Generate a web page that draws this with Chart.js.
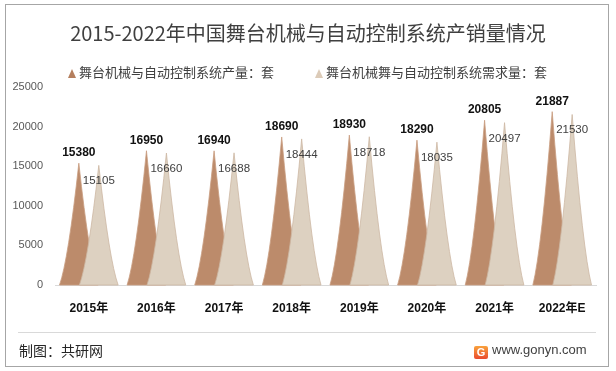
<!DOCTYPE html>
<html>
<head>
<meta charset="utf-8">
<script src="https://cdn.jsdelivr.net/npm/chart.js@4/dist/chart.umd.min.js"></script>
<style>
  body { margin: 0; background: #fff; font-family: "Noto Sans CJK SC", "Noto Sans", sans-serif; }
  #wrap { position: relative; width: 616px; height: 371px; overflow: hidden; }
  #frame { position: absolute; left: 5px; top: 4px; width: 604px; height: 363px; border: 1px solid #a6a6a6; box-sizing: border-box; }
  #chart { position: absolute; left: 0; top: 0; }
  .title { position: absolute; left: 0; width: 616px; top: 20px; text-align: center; font-size: 20px; line-height: 26px; color: #404040; }
  .legend-item { position: absolute; top: 63px; font-size: 13px; line-height: 18px; color: #404040; white-space: nowrap; }
  .tri { display: inline-block; width: 0; height: 0; border-left: 4px solid transparent; border-right: 4px solid transparent; border-bottom: 9px solid; margin-right: 3px; vertical-align: -1px; }
  .rule { position: absolute; left: 18px; top: 332px; width: 578px; height: 1px; background: #d9d9d9; }
  .source { position: absolute; left: 19px; top: 340px; font-size: 14px; line-height: 20px; color: #262626; }
  .site { position: absolute; left: 474px; top: 341px; font-family: "Liberation Sans", Arial, sans-serif; font-size: 13px; line-height: 18px; color: #404040; }
  .logo { display: inline-block; width: 14px; height: 13px; margin-right: 4px; vertical-align: -2px; background: linear-gradient(#f9a23c, #ea4a2d); color: #fff; font: bold 11px/13px "Liberation Sans", Arial, sans-serif; text-align: center; border-radius: 2px; }
</style>
</head>
<body>
<div id="wrap">
  <div id="frame"></div>
  <canvas id="chart" width="616" height="371"></canvas>
  <div class="title">2015-2022年中国舞台机械与自动控制系统产销量情况</div>
  <div class="legend-item" style="left:68px"><span class="tri" style="border-bottom-color:#b57f5e"></span>舞台机械与自动控制系统产量：套</div>
  <div class="legend-item" style="left:315px"><span class="tri" style="border-bottom-color:#dccbb8"></span>舞台机械舞与自动控制系统需求量：套</div>
  <div class="rule"></div>
  <div class="source">制图：共研网</div>
  <div class="site"><span class="logo">G</span>www.gonyn.com</div>
</div>
<script>
const years = ['2015年', '2016年', '2017年', '2018年', '2019年', '2020年', '2021年', '2022年E']
const production = [15380, 16950, 16940, 18690, 18930, 18290, 20805, 21887]
const demand = [15105, 16660, 16688, 18444, 18718, 18035, 20497, 21530]
const yTicks = [0, 5000, 10000, 15000, 20000, 25000]

const spikeColors = ['#bc8b6b', '#ddd1c1']
const spikeEdges = ['#c99d80', '#cdb8a3']

// draws each bar as a pointed spike, using the bar element's position from the scales
const spikePlugin = {
  id: 'spikes',
  afterDatasetsDraw(chart) {
    const ctx = chart.ctx
    chart.data.datasets.forEach((ds, i) => {
      const meta = chart.getDatasetMeta(i)
      meta.data.forEach((bar) => {
        const { x, y, base, width } = bar.getProps(['x', 'y', 'base', 'width'], true)
        const w = width * 0.97
        const h = base - y
        ctx.save()
        ctx.beginPath()
        ctx.moveTo(x - w, base)
        ctx.quadraticCurveTo(x - w * 0.55, base - h * 0.2, x, y)
        ctx.quadraticCurveTo(x + w * 0.55, base - h * 0.2, x + w, base)
        ctx.closePath()
        ctx.fillStyle = spikeColors[i]
        ctx.fill()
        ctx.lineWidth = 0.8
        ctx.strokeStyle = spikeEdges[i]
        ctx.stroke()
        ctx.restore()
      })
    })
    // value labels
    chart.data.datasets.forEach((ds, i) => {
      const meta = chart.getDatasetMeta(i)
      meta.data.forEach((bar, j) => {
        ctx.save()
        ctx.textAlign = 'center'
        ctx.textBaseline = 'alphabetic'
        if (i === 0) {
          ctx.font = 'bold 12px "Liberation Sans", Arial, sans-serif'
          ctx.fillStyle = '#111'
          ctx.fillText(ds.data[j], bar.x, bar.y - 7)
        } else {
          ctx.font = '11.5px "Liberation Sans", Arial, sans-serif'
          ctx.fillStyle = '#404040'
          ctx.fillText(ds.data[j], bar.x, bar.y + 19)
        }
        ctx.restore()
      })
    })
  }
}

new Chart(document.getElementById('chart'), {
  type: 'bar',
  data: {
    labels: years,
    datasets: [
      {
        label: '舞台机械与自动控制系统产量：套',
        data: production,
        backgroundColor: 'rgba(0,0,0,0)',
        borderWidth: 0
      },
      {
        label: '舞台机械舞与自动控制系统需求量：套',
        data: demand,
        backgroundColor: 'rgba(0,0,0,0)',
        borderWidth: 0
      }
    ]
  },
  plugins: [spikePlugin],
  options: {
    responsive: false,
    animation: false,
    categoryPercentage: 0.59,
    barPercentage: 1,
    layout: { padding: { left: 5, right: 20, top: 87, bottom: 50 } },
    plugins: {
      legend: { display: false },
      title: { display: false },
      tooltip: { enabled: false }
    },
    scales: {
      x: {
        grid: { display: false, drawTicks: false },
        border: { display: true, color: '#d9d9d9', width: 1 },
        ticks: {
          padding: 16,
          color: '#111',
          font: { family: '"Liberation Sans", "Noto Sans CJK SC", sans-serif', size: 12, weight: 'bold' }
        },
        afterFit(scale) { scale.height = 36 }
      },
      y: {
        min: yTicks[0],
        max: yTicks[yTicks.length - 1],
        grid: { display: false, drawTicks: false },
        border: { display: false },
        afterBuildTicks(scale) { scale.ticks = yTicks.map(v => ({ value: v })) },
        ticks: {
          padding: 12,
          color: '#595959',
          font: { family: '"Liberation Sans", Arial, sans-serif', size: 11 },
          callback: (v) => String(v)
        },
        afterFit(scale) { scale.width = 50 }
      }
    }
  }
})
</script>
</body>
</html>
